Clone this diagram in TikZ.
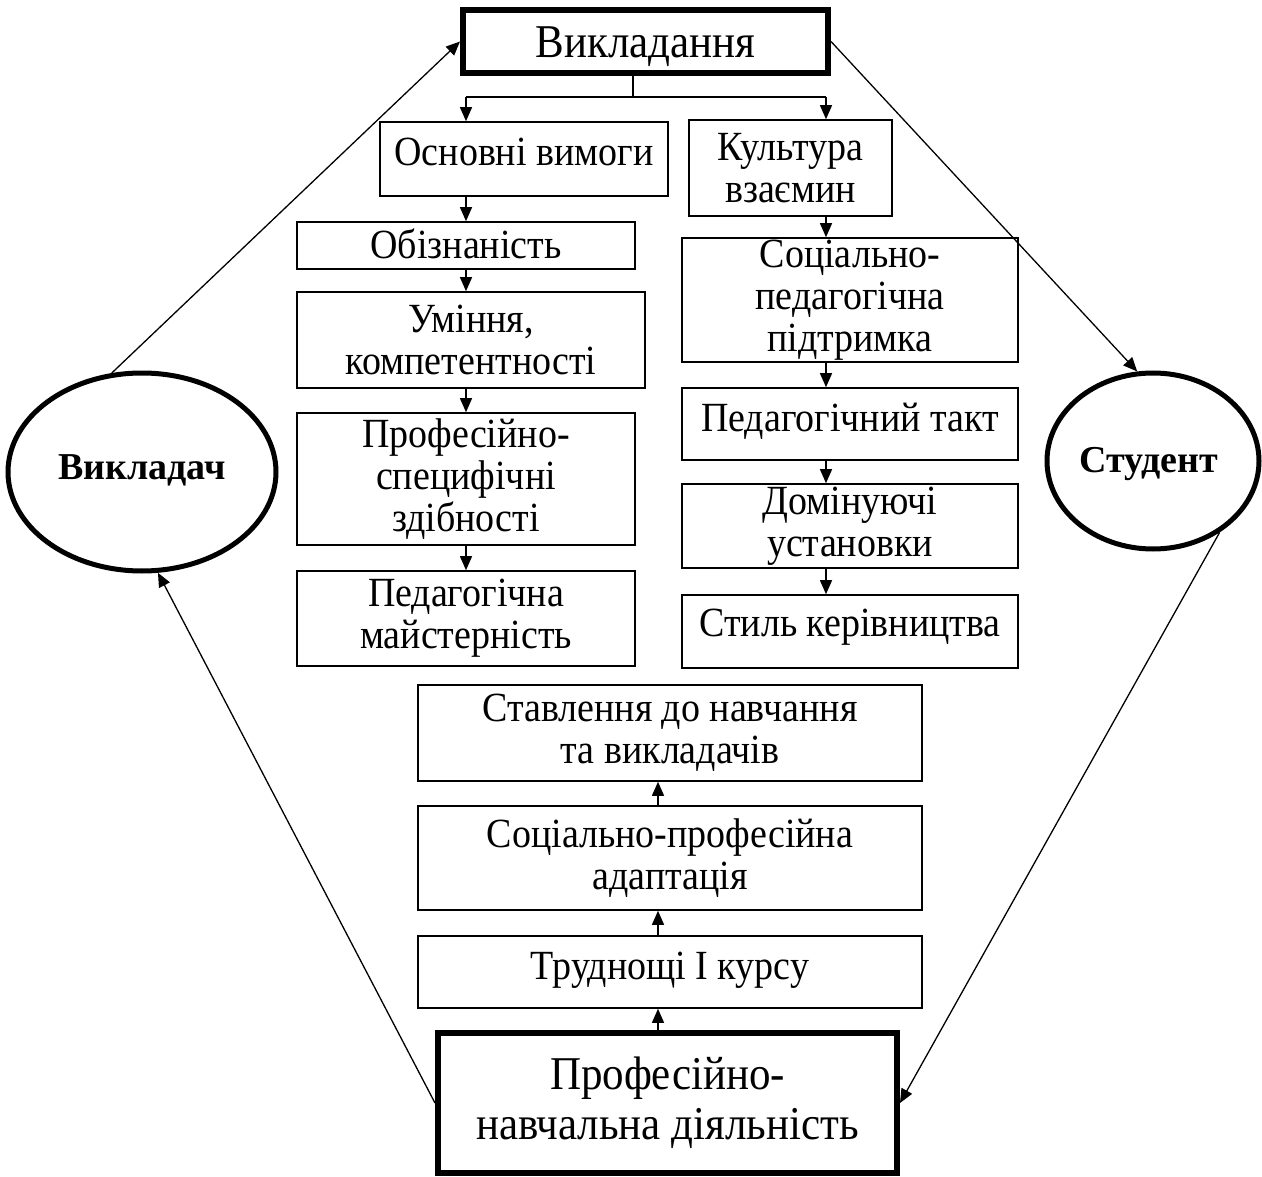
\documentclass[tikz,border=0pt]{standalone}
\usepackage{fontspec}
\setmainfont{Liberation Serif}[FakeStretch=0.915]
\newfontfamily\ellfont{Liberation Serif}
\usetikzlibrary{arrows.meta,shapes.geometric,calc}
\begin{document}
\begin{tikzpicture}[x=1pt,y=-1pt,
  box/.style={draw, line width=1.6pt, rectangle, inner sep=0pt, align=center,
    font=\fontsize{41.5}{42}\selectfont},
  bigbox/.style={draw, line width=6pt, rectangle, inner sep=0pt, align=center,
    font=\fontsize{47}{50}\selectfont},
  ell/.style={draw, ellipse, line width=5pt, inner sep=0pt,
    font=\ellfont\bfseries\fontsize{38}{40}\selectfont},
  ln/.style={line width=1.3pt},
  arr/.style={line width=1.3pt, -{Triangle[length=14pt,width=12pt]}}]
\fill[white] (0,0) rectangle (1262,1177);
\useasboundingbox (0,0) rectangle (1262,1177);

% top box
\node[bigbox, minimum width=365, minimum height=63, text height=32pt, text depth=0pt] (vyk) at (645.5,41.5) {Викладання};

% left column
\node[box, minimum width=288, minimum height=74, text height=28pt, text depth=14pt] (osn) at (524,159) {Основні вимоги};
\node[box, minimum width=338, minimum height=47, text height=28pt, text depth=2pt] (obiz) at (466,245.5) {Обізнаність};
\node[box, minimum width=348, minimum height=96] (um) at (471,340) {Уміння,\\компетентності};
\node[box, minimum width=338, minimum height=132] (prof) at (466,479) {Професійно-\\специфічні\\здібності};
\node[box, minimum width=338, minimum height=95] (pm) at (466,618.5) {Педагогічна\\майстерність};

% right column
\node[box, minimum width=203, minimum height=96] (kult) at (790.5,168) {Культура\\взаємин};
\node[box, minimum width=336, minimum height=124] (soc) at (850,300) {Соціально-\\педагогічна\\підтримка};
\node[box, minimum width=336, minimum height=72, text height=28pt, text depth=14pt] (takt) at (850,424) {Педагогічний такт};
\node[box, minimum width=336, minimum height=84] (dom) at (850,526) {Домінуючі\\установки};
\node[box, minimum width=336, minimum height=73, text height=28pt, text depth=18pt] (styl) at (850,631.5) {Стиль керівництва};

% bottom column
\node[box, minimum width=504, minimum height=96] (stav) at (670,733) {Ставлення до навчання\\та викладачів};
\node[box, minimum width=504, minimum height=104] (spa) at (670,858) {Соціально-професійна\\адаптація};
\node[box, minimum width=504, minimum height=72, text height=28pt, text depth=14pt] (trud) at (670,972) {Труднощі І курсу};
\node[bigbox, minimum width=459, minimum height=140] (pnd) at (667.5,1103) {Професійно-\\навчальна діяльність};

% ellipses
\node[ell, minimum width=268, minimum height=198, text height=26pt, text depth=12pt] (vikl) at (142,472) {Викладач};
\node[ell, minimum width=212, minimum height=176, text height=26pt, text depth=4pt] (stud) at (1153,461) {\kern-8pt Студент};

% branch from top box
\coordinate (bst) at (633,97);
\coordinate (bl) at (466,97);
\coordinate (br) at (826,97);
\coordinate (bc) at (658,0);
\draw[ln] (vyk.south -| bst) -- (bst);
\draw[ln] (bl) -- (br);
\draw[arr] (bl) -- (bl |- osn.north);
\draw[arr] (br) -- (br |- kult.north);

% left column arrows
\draw[arr] (osn.south -| obiz.north) -- (obiz.north);
\draw[arr] (obiz.south) -- (obiz.south |- um.north);
\draw[arr] (prof.north |- um.south) -- (prof.north);
\draw[arr] (prof.south) -- (pm.north);

% right column arrows
\draw[arr] (kult.south -| br) -- (br |- soc.north);
\draw[arr] (soc.south -| br) -- (br |- takt.north);
\draw[arr] (takt.south -| br) -- (br |- dom.north);
\draw[arr] (dom.south -| br) -- (br |- styl.north);

% bottom column arrows
\draw[arr] (pnd.north -| bc) -- (bc |- trud.south);
\draw[arr] (trud.north -| bc) -- (bc |- spa.south);
\draw[arr] (spa.north -| bc) -- (bc |- stav.south);

% cycle connectors
\draw[arr] (vikl.107) -- (vyk.west);
\draw[arr] (vyk.east) -- (stud.100);
\draw[arr] (stud.-47) -- (pnd.east);
\draw[arr] (pnd.west) -- (vikl.-81);
\end{tikzpicture}
\end{document}
